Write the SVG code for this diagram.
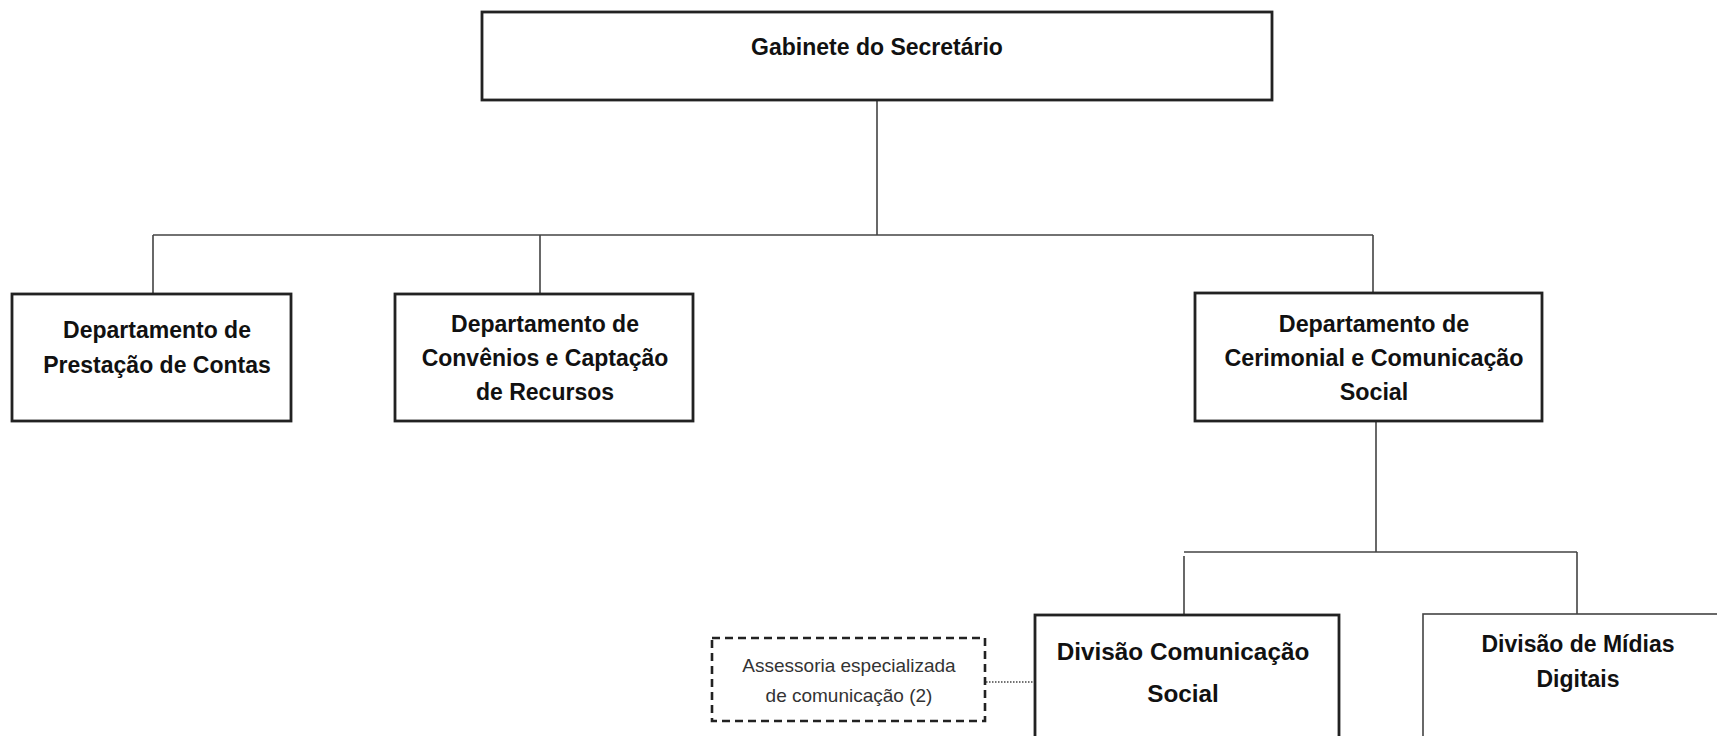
<svg xmlns="http://www.w3.org/2000/svg" width="1717" height="736" viewBox="0 0 1717 736">
<style>
.box{fill:#fff;stroke:#222;stroke-width:2.8}
.box2{fill:#fff;stroke:#444;stroke-width:1.6}
.dash{fill:#fff;stroke:#222;stroke-width:2.6;stroke-dasharray:8 5}
.t{font-family:"Liberation Sans",Arial,sans-serif;font-weight:bold;fill:#111;text-anchor:middle}
.s{font-family:"Liberation Sans",Arial,sans-serif;fill:#333;text-anchor:middle;font-size:19px}
.c{stroke:#444;stroke-width:1.6;fill:none}
.d{stroke:#444;stroke-width:1.4;stroke-dasharray:1.5 1.5;fill:none}
</style>
<rect width="1717" height="736" fill="#fff"/>
<g id="connectors">
<path class="c" d="M877 100V235M153 235H1373M153 235V294M540 235V294M1373 235V293"/>
<path class="c" d="M1376 421V552M1184 552H1577M1184 556V615M1577 552V614"/>
<path class="d" d="M986 682H1035"/>
</g>
<g id="gabinete">
<rect class="box" x="482" y="12" width="790" height="88"/>
<text class="t" x="877" y="55" font-size="23">Gabinete do Secretário</text>
</g>
<g id="prestacao">
<rect class="box" x="12" y="294" width="279" height="127"/>
<text class="t" x="157" y="338" font-size="23">Departamento de</text>
<text class="t" x="157" y="373" font-size="23">Prestação de Contas</text>
</g>
<g id="convenios">
<rect class="box" x="395" y="294" width="298" height="127"/>
<text class="t" x="545" y="332" font-size="23">Departamento de</text>
<text class="t" x="545" y="366" font-size="23">Convênios e Captação</text>
<text class="t" x="545" y="400" font-size="23">de Recursos</text>
</g>
<g id="cerimonial">
<rect class="box" x="1195" y="293" width="347" height="128"/>
<text class="t" x="1374" y="332" font-size="23.3">Departamento de</text>
<text class="t" x="1374" y="366" font-size="23.3">Cerimonial e Comunicação</text>
<text class="t" x="1374" y="400" font-size="23.3">Social</text>
</g>
<g id="assessoria">
<rect class="dash" x="712" y="638" width="273" height="83"/>
<text class="s" x="849" y="672">Assessoria especializada</text>
<text class="s" x="849" y="702">de comunicação (2)</text>
</g>
<g id="divisao-comunicacao">
<rect class="box" x="1035" y="615" width="304" height="140"/>
<text class="t" x="1183" y="660" font-size="24.3">Divisão Comunicação</text>
<text class="t" x="1183" y="702" font-size="24.3">Social</text>
</g>
<g id="divisao-midias">
<rect class="box2" x="1423" y="614" width="310" height="140"/>
<text class="t" x="1578" y="652" font-size="23">Divisão de Mídias</text>
<text class="t" x="1578" y="687" font-size="23">Digitais</text>
</g>
</svg>
